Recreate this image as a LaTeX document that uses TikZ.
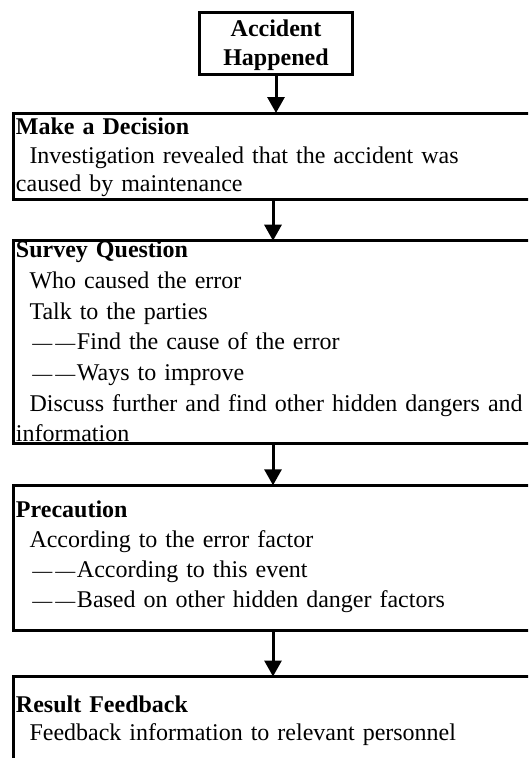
\documentclass[tikz,border=0pt]{standalone}
\usepackage{fontspec}
\setmainfont{Liberation Serif}
\usetikzlibrary{arrows.meta}
\newcommand\bodyfont[1]{\fontsize{24}{#1}\selectfont}
\newcommand\ind{\hspace*{13.5pt}}
\newcommand\dd{\kern3pt{\fontsize{20}{20}\selectfont —\kern3pt—}\kern1.5pt}

\begin{document}
\begin{tikzpicture}[x=1pt,y=-1pt,
    stepbox/.style={draw,line width=3pt,inner xsep=2.5pt,inner ysep=0pt,
      outer sep=0pt,anchor=north west,text width=560pt,align=left},
    flow/.style={-{Triangle[length=16pt,width=17pt]},line width=3pt}]
  \useasboundingbox (0,0) rectangle (528,758);
  \clip (0,0) rectangle (528,758);
  \node[draw,line width=3pt,inner sep=0pt,outer sep=0pt,anchor=north,
        minimum width=153pt,align=center,font=\bodyfont{28.3}\bfseries,
        text height=52.5pt,text depth=9.5pt]
    (acc) at (276,12.5) {Accident\\Happened};
  \node[stepbox,font=\bodyfont{28.7},text height=21.3pt,text depth=64.7pt]
    (dec) at (13.5,113)
    {\textbf{Make a Decision}\\
     \ind Investigation revealed that the accident was\\
     caused by maintenance};
  \node[stepbox,font=\bodyfont{30.7},text height=17pt,text depth=185.8pt]
    (sur) at (13.5,240.7)
    {\textbf{Survey Question}\\
     \ind Who caused the error\\
     \ind Talk to the parties\\
     \ind\dd Find the cause of the error\\
     \ind\dd Ways to improve\\
     \ind Discuss further and find other hidden dangers and\\
     information};
  \node[stepbox,font=\bodyfont{30},text height=32pt,text depth=113.4pt]
    (pre) at (13.5,485.3)
    {\textbf{Precaution}\\
     \ind According to the error factor\\
     \ind\dd According to this event\\
     \ind\dd Based on other hidden danger factors};
  \node[stepbox,font=\bodyfont{28},text height=35.5pt,text depth=100pt]
    (res) at (13.5,676.5)
    {\textbf{Result Feedback}\\
     \ind Feedback information to relevant personnel};
  \coordinate (spine) at (273,0);
  \draw[flow] (acc.south) -- (acc.south |- dec.north);
  \draw[flow] (spine |- dec.south) -- (spine |- sur.north);
  \draw[flow] (spine |- sur.south) -- (spine |- pre.north);
  \draw[flow] (spine |- pre.south) -- (spine |- res.north);
\end{tikzpicture}
\end{document}
